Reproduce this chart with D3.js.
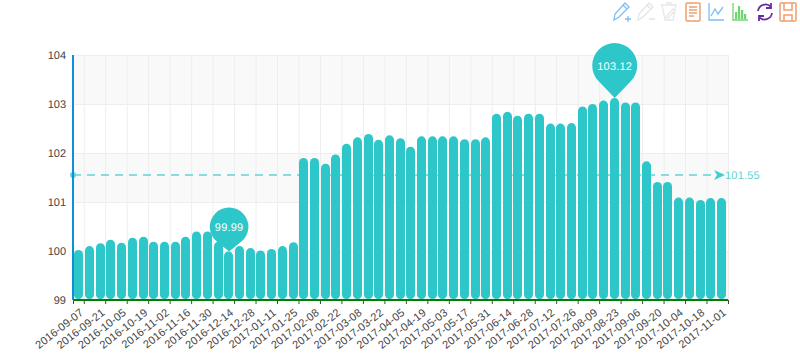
<!DOCTYPE html>
<html>
<head>
<meta charset="utf-8">
<style>
  html, body { margin: 0; background: #fff; }
  svg { display: block; }
  text { font-family: "Liberation Sans", Arial, sans-serif; text-rendering: geometricPrecision; }
</style>
</head>
<body>
<div class="canvas"></div>
<script src="https://cdnjs.cloudflare.com/ajax/libs/d3/7.8.5/d3.min.js"></script>
<script>
// data
const dates = [
  '2016-09-07','2016-09-14','2016-09-21','2016-09-28','2016-10-05','2016-10-12','2016-10-19','2016-10-26',
  '2016-11-02','2016-11-09','2016-11-16','2016-11-23','2016-11-30','2016-12-07','2016-12-14','2016-12-21',
  '2016-12-28','2017-01-04','2017-01-11','2017-01-18','2017-01-25','2017-02-01','2017-02-08','2017-02-15',
  '2017-02-22','2017-03-01','2017-03-08','2017-03-15','2017-03-22','2017-03-29','2017-04-05','2017-04-12',
  '2017-04-19','2017-04-26','2017-05-03','2017-05-10','2017-05-17','2017-05-24','2017-05-31','2017-06-07',
  '2017-06-14','2017-06-21','2017-06-28','2017-07-05','2017-07-12','2017-07-19','2017-07-26','2017-08-02',
  '2017-08-09','2017-08-16','2017-08-23','2017-08-30','2017-09-06','2017-09-13','2017-09-20','2017-09-27',
  '2017-10-04','2017-10-11','2017-10-18','2017-10-25','2017-11-01'
];
const values = [
  100.02,100.10,100.16,100.23,100.17,100.27,100.29,100.19,100.19,100.19,
  100.29,100.40,100.40,100.19,99.99,100.10,100.06,100.01,100.04,100.10,
  100.18,101.90,101.90,101.78,101.97,102.19,102.32,102.39,102.27,102.36,
  102.30,102.13,102.34,102.34,102.34,102.34,102.28,102.28,102.32,102.80,
  102.84,102.76,102.80,102.80,102.60,102.60,102.61,102.95,103.00,103.07,
  103.12,103.03,103.03,101.83,101.41,101.41,101.09,101.09,101.04,101.08,
  101.08
];
const yTicks = [99, 100, 101, 102, 103, 104];
const meanValue = 101.55;
const minDate = '2016-12-14';
const maxDate = '2017-08-23';

const width = 800, height = 354;
const plot = { left: 73, right: 728, top: 55, bottom: 300 };
const teal = '#2ec7c9';

const svg = d3.select('.canvas')
  .append('svg')
    .attr('width', width)
    .attr('height', height);

// scales
const x = d3.scaleBand()
  .domain(dates)
  .range([plot.left, plot.right])
  .padding(0.15);

const y = d3.scaleLinear()
  .domain([99, 104])
  .range([plot.bottom, plot.top]);

// band edges, ticks and grid lines sit on every other one
const edge = d3.scaleLinear()
  .domain([0, dates.length])
  .range([plot.left, plot.right]);
const edgeTicks = d3.range(0, dates.length + 1).filter(i => i === 0 || i % 2 === 1);

// split areas
svg.append('g')
  .selectAll('rect')
  .data(yTicks.slice(0, -1))
  .join('rect')
    .attr('x', plot.left)
    .attr('width', plot.right - plot.left)
    .attr('y', d => y(d + 1))
    .attr('height', d => y(d) - y(d + 1))
    .attr('fill', d => d % 2 === 1 ? '#f9f9f9' : '#fff');

// grid
const yGrid = svg.append('g')
  .attr('transform', `translate(${plot.left}, 0)`)
  .call(d3.axisRight(y).tickValues(yTicks).tickSize(plot.right - plot.left).tickFormat(''));
yGrid.select('.domain').remove();
yGrid.selectAll('line').attr('stroke', '#eee');

const xGrid = svg.append('g')
  .attr('transform', `translate(0, ${plot.top})`)
  .call(d3.axisBottom(edge).tickValues(edgeTicks.slice(1)).tickSize(plot.bottom - plot.top).tickFormat(''));
xGrid.select('.domain').remove();
xGrid.selectAll('line').attr('stroke', '#eee');

// mean line, behind the bars
const meanY = y(meanValue);
svg.append('line')
  .attr('x1', plot.left)
  .attr('x2', plot.right - 8)
  .attr('y1', meanY)
  .attr('y2', meanY)
  .attr('stroke', '#5dd5d6')
  .attr('stroke-width', 1.6)
  .attr('stroke-dasharray', '8 6');

svg.append('circle')
  .attr('cx', plot.left)
  .attr('cy', meanY)
  .attr('r', 3)
  .attr('fill', '#5dd5d6');

svg.append('path')
  .attr('d', `M${plot.right - 14},${meanY - 5}L${plot.right - 3},${meanY}L${plot.right - 14},${meanY + 5}L${plot.right - 11},${meanY}Z`)
  .attr('fill', '#3fcfd0');

svg.append('text')
  .attr('x', plot.right - 3)
  .attr('y', meanY + 4)
  .attr('font-size', 11)
  .attr('letter-spacing', 0.2)
  .attr('fill', '#5dd5d6')
  .text(meanValue.toFixed(2));

// bars
svg.append('g')
  .selectAll('rect')
  .data(dates)
  .join('rect')
    .attr('x', d => Math.round(x(d) - 0.3))
    .attr('width', 9)
    .attr('y', (d, i) => y(values[i]))
    .attr('height', (d, i) => plot.bottom - 1 - y(values[i]))
    .attr('rx', 4.5)
    .attr('ry', 4.5)
    .attr('fill', teal);

// x axis line and ticks
const xTicks = svg.append('g')
  .attr('transform', `translate(0, ${plot.bottom})`)
  .call(d3.axisBottom(edge).tickValues(edgeTicks).tickSize(4).tickFormat(''));
xTicks.select('.domain').remove();
xTicks.selectAll('line').attr('stroke', '#444');

svg.append('line')
  .attr('x1', plot.left)
  .attr('x2', plot.right)
  .attr('y1', plot.bottom)
  .attr('y2', plot.bottom)
  .attr('stroke', '#008000')
  .attr('stroke-width', 2);

// x labels
const xAxis = svg.append('g')
  .attr('transform', `translate(0, ${plot.bottom})`)
  .call(d3.axisBottom(x).tickValues(dates.filter((d, i) => i % 2 === 0)).tickSize(0));
xAxis.select('.domain').remove();
xAxis.selectAll('text')
  .attr('font-size', 11)
  .attr('letter-spacing', 0.1)
  .attr('fill', '#444')
  .attr('text-anchor', 'end')
  .attr('dy', null)
  .attr('y', 0)
  .attr('transform', 'translate(5, 14) rotate(-38)');

// y axis
svg.append('line')
  .attr('x1', plot.left)
  .attr('x2', plot.left)
  .attr('y1', plot.top)
  .attr('y2', plot.bottom)
  .attr('stroke', '#0f8fd8')
  .attr('stroke-width', 2);

const yAxis = svg.append('g')
  .attr('transform', `translate(${plot.left}, 0)`)
  .call(d3.axisLeft(y).tickValues(yTicks).tickSize(0).tickPadding(7).tickFormat(d3.format('d')));
yAxis.select('.domain').remove();
yAxis.selectAll('text')
  .attr('font-size', 11)
  .attr('fill', '#444');

// pins for min and max
const pin = (date, radius, reach) => {
  const value = values[dates.indexOf(date)];
  const tipX = x(date) + x.bandwidth() / 2;
  const tipY = y(value);
  const cy = tipY - reach;
  const a = Math.acos(radius / reach);
  const dx = radius * Math.sin(a);
  const dy = radius * Math.cos(a);
  svg.append('path')
    .attr('d', `M${tipX},${tipY}L${tipX - dx},${cy + dy}A${radius},${radius} 0 1 1 ${tipX + dx},${cy + dy}Z`)
    .attr('fill', teal);
  svg.append('text')
    .attr('x', tipX)
    .attr('y', cy + 4)
    .attr('text-anchor', 'middle')
    .attr('font-size', 11)
    .attr('letter-spacing', 0.2)
    .attr('fill', '#fff')
    .text(value.toFixed(2));
};
pin(minDate, 19.3, 24.7);
pin(maxDate, 22.5, 32.6);

// toolbox icons
const icon = (cx, color, d, sw = 1.3) => svg.append('path')
  .attr('transform', `translate(${cx}, 12)`)
  .attr('d', d)
  .attr('fill', 'none')
  .attr('stroke', color)
  .attr('stroke-width', sw);

const pencil = 'M-8,8L-7,2L3,-9L7,-5L-3,5Z M1,-7L5,-3';
icon(622, '#7fbdf7', pencil + ' M3,7H9 M6,4V10');
icon(646, '#e4e4e4', pencil + ' M3,7H9');
icon(669, '#e8e8e8', 'M-8,-7H8 M-7,-7L-4,8H4L7,-7 M-3,-9H3 M-3,5L4,-3L6,-1L-1,6Z');
icon(693, '#ee9f6d', 'M-6,-9H6Q7,-9 7,-8V8Q7,9 6,9H-6Q-7,9 -7,8V-8Q-7,-9 -6,-9Z M-4,-5H4 M-4,-2H4 M-4,1H4 M-4,4H1', 1.5);
icon(716, '#7fbdf7', 'M-7,-9V8H8 M-5,4L-1,-3L2,2L7,-5', 1.3);
icon(740, '#6fd66f', 'M-7,-9V8H8', 1.3);
svg.append('g')
  .attr('transform', 'translate(740, 12)')
  .selectAll('rect')
  .data([[-5, 0], [-2, -6], [1, -2], [4, 2]])
  .join('rect')
    .attr('x', d => d[0])
    .attr('y', d => d[1])
    .attr('width', 2.2)
    .attr('height', d => 7 - d[1])
    .attr('fill', '#6fd66f');
icon(765, '#6a2ca0', 'M-7,-1A7.5,7.5 0 0 1 6,-5 M7,1A7.5,7.5 0 0 1 -6,5 M6,-9V-4H1 M-6,9V4H-1', 1.8);
icon(788, '#ee9f6d', 'M-7,-9H7Q8,-9 8,-8V8Q8,9 7,9H-7Q-8,9 -8,8V-8Q-8,-9 -7,-9Z M-4,-9V-2H4V-9 M-4,9V3H4V9', 1.5);
</script>
</body>
</html>
